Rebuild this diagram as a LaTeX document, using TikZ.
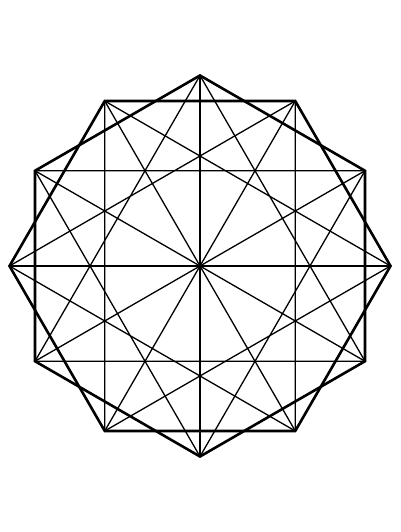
\documentclass[tikz,border=0pt]{standalone}
\usetikzlibrary{calc}
\begin{document}
\begin{tikzpicture}[x=1pt,y=1pt,
  thinline/.style={line width=1.3pt,black},
  thickline/.style={line width=2.6pt,black,line join=miter}]
\useasboundingbox (0,0) rectangle (400,532);
\coordinate (c) at (200,266);
\foreach \k in {0,...,11}{
  \coordinate (p\k) at ($(c)+({90-30*\k}:190.5)$);
}
% diameters
\foreach \k in {0,...,5}{
  \pgfmathtruncatemacro{\j}{\k+6}
  \draw[thinline] (p\k) -- (p\j);
}
% chords skipping four vertices (four triangles)
\foreach \k in {0,...,3}{
  \pgfmathtruncatemacro{\a}{\k+4}
  \pgfmathtruncatemacro{\b}{\k+8}
  \draw[thinline] (p\k) -- (p\a) -- (p\b) -- cycle;
}
% two hexagons
\draw[thickline] (p0) -- (p2) -- (p4) -- (p6) -- (p8) -- (p10) -- cycle;
\draw[thickline] (p1) -- (p3) -- (p5) -- (p7) -- (p9) -- (p11) -- cycle;
\end{tikzpicture}
\end{document}
